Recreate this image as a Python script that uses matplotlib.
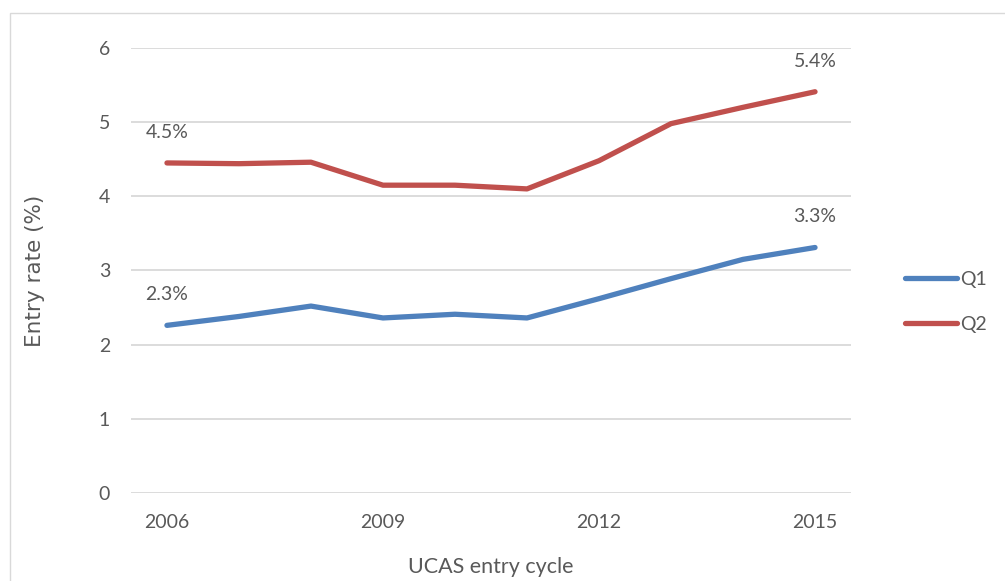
import matplotlib.pyplot as plt
from matplotlib.patches import Rectangle

years = [2006, 2007, 2008, 2009, 2010, 2011, 2012, 2013, 2014, 2015]
q1 = [2.26, 2.38, 2.52, 2.36, 2.41, 2.36, 2.62, 2.89, 3.15, 3.31]
q2 = [4.45, 4.44, 4.46, 4.15, 4.15, 4.10, 4.48, 4.98, 5.20, 5.41]
xticks = [2006, 2009, 2012, 2015]
yticks = [0, 1, 2, 3, 4, 5, 6]

TEXT = '#595959'
plt.rcParams['font.family'] = ['Lato', 'DejaVu Sans']


def main():
    fig = plt.figure(figsize=(10.05, 5.81), dpi=100)
    ax = fig.add_axes([0.1303, 0.1515, 0.7165, 0.7659])

    # light frame round the whole chart, like the Excel chart area
    fig.patches.append(Rectangle((10 / 1005, -0.1), 1.2, 1 - 13 / 581 + 0.1,
                                 transform=fig.transFigure, fill=False,
                                 edgecolor='#d9d9d9', lw=1.0))

    ax.plot(years, q1, color='#4F81BD', lw=3.8, solid_capstyle='round', label='Q1')
    ax.plot(years, q2, color='#C0504D', lw=3.8, solid_capstyle='round', label='Q2')

    # first / last value labels
    for s in (q1, q2):
        for i in (0, -1):
            ax.annotate(f"{s[i]:.1f}%", (years[i], s[i]), xytext=(0, 16),
                        textcoords='offset points', ha='center', va='bottom',
                        fontsize=14, color=TEXT)

    ax.set_xlim(2005.5, 2015.5)
    ax.set_ylim(0, 6)
    ax.set_xticks(xticks)
    ax.set_yticks(yticks)
    ax.tick_params(length=0, labelsize=14, labelcolor=TEXT)
    ax.tick_params(axis='x', pad=15)
    ax.tick_params(axis='y', pad=15)
    ax.grid(axis='y', color='#d9d9d9', lw=1.3)
    ax.set_axisbelow(True)
    for sp in ax.spines.values():
        sp.set_visible(False)

    ax.set_xlabel("UCAS entry cycle", fontsize=15.5, color=TEXT, labelpad=19)
    ax.set_ylabel("Entry rate (%)", fontsize=15.5, color=TEXT, labelpad=39,
                  family='DejaVu Sans')

    ax.legend(loc='center left', bbox_to_anchor=(1.05, 0.43), frameon=False,
              fontsize=14, labelcolor=TEXT, handlelength=2.7, handletextpad=0.15,
              labelspacing=1.45)

    fig.savefig('out.png', dpi=100)


if __name__ == '__main__':
    main()
